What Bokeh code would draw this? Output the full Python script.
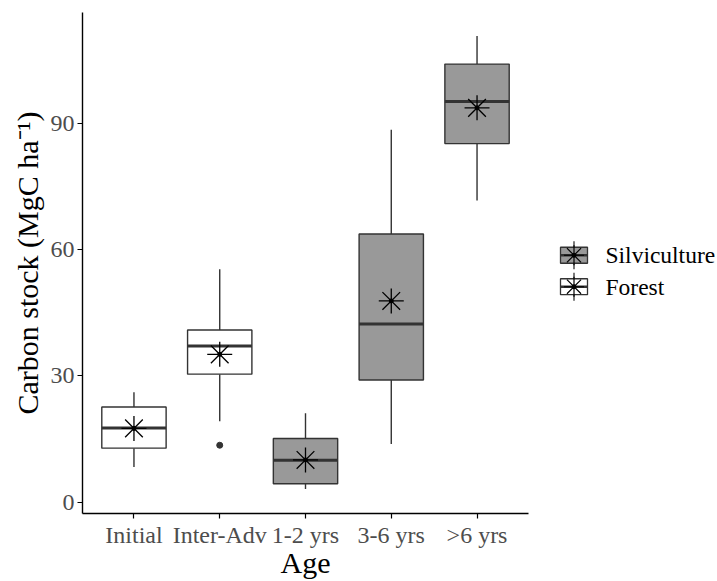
from bokeh.plotting import figure
from bokeh.models import Range1d, FixedTicker, ColumnDataSource
from bokeh.layouts import row
from bokeh.embed import file_html
from bokeh.resources import INLINE
from bokeh.core.properties import value

# ---- data ----
categories = ["Initial", "Inter-Adv", "1-2 yrs", "3-6 yrs", ">6 yrs"]
groups = ["Forest", "Forest", "Silviculture", "Silviculture", "Silviculture"]
lower_whisker = [8.3, 19.2, 3.1, 13.8, 71.7]
q1 = [12.8, 30.4, 4.35, 29.0, 85.2]
median = [17.6, 37.1, 9.9, 42.3, 95.2]
q3 = [22.6, 40.9, 15.1, 63.7, 104.1]
upper_whisker = [26.1, 55.3, 21.1, 88.5, 110.8]
mean = [17.5, 35.1, 10.0, 47.8, 93.7]
outlier_category = ["Inter-Adv"]
outlier_value = [13.5]
y_ticks = [0, 30, 60, 90]
legend_groups = ["Silviculture", "Forest"]
group_fill = {"Silviculture": "#999999", "Forest": "#ffffff"}

FONT = "Liberation Serif"
EDGE = "#333333"
BOX_W = 0.75

pos = [i + 1 for i in range(len(categories))]
fills = [group_fill[g] for g in groups]
src = ColumnDataSource(dict(
    x=pos, lw=lower_whisker, q1=q1, med=median, q3=q3, uw=upper_whisker,
    mean=mean, fill=fills,
    x0=[p_ - BOX_W / 2 for p_ in pos], x1=[p_ + BOX_W / 2 for p_ in pos],
))

p = figure(width=530, height=581, output_backend="svg", toolbar_location=None,
           x_range=Range1d(0.4, len(categories) + 0.6),
           y_range=Range1d(-2.73, 116.36),
           min_border_left=82, min_border_right=2, min_border_top=12, min_border_bottom=60)
p.outline_line_color = None
p.xgrid.visible = False
p.ygrid.visible = False
p.background_fill_color = "white"

# whiskers
p.segment(x0="x", y0="q3", x1="x", y1="uw", source=src, line_color=EDGE, line_width=1.4)
p.segment(x0="x", y0="q1", x1="x", y1="lw", source=src, line_color=EDGE, line_width=1.4)
# boxes
p.vbar(x="x", bottom="q1", top="q3", width=BOX_W, source=src, fill_color="fill",
       line_color=EDGE, line_width=1.4)
# medians
p.segment(x0="x0", y0="med", x1="x1", y1="med", source=src, line_color=EDGE, line_width=3)
# outliers
p.scatter(x=[pos[categories.index(c)] for c in outlier_category], y=outlier_value,
          marker="circle", size=6, fill_color=EDGE, line_color=EDGE)
# means
p.scatter(x="x", y="mean", source=src, marker="asterisk", size=25,
          line_color="black", line_width=1.3)
p.scatter(x="x", y="mean", source=src, marker="circle", size=4,
          fill_color="black", line_color="black")

# axes
for ax in (p.xaxis[0], p.yaxis[0]):
    ax.axis_line_color = "black"
    ax.axis_line_width = 1.4
    ax.major_tick_line_color = "black"
    ax.major_tick_line_width = 1.2
    ax.major_tick_in = 0
    ax.major_tick_out = 5
    ax.minor_tick_line_color = None
    ax.major_label_text_font = FONT
    ax.major_label_text_font_size = "24px"
    ax.major_label_text_color = "#4D4D4D"
    ax.axis_label_text_font = FONT
    ax.axis_label_text_font_size = "30px"
    ax.axis_label_text_font_style = "normal"
    ax.axis_label_text_color = "black"
    ax.major_label_standoff = 3

p.xaxis.axis_label_standoff = -5
p.yaxis.axis_label_standoff = 4
p.xaxis.ticker = FixedTicker(ticks=pos)
p.xaxis.major_label_overrides = {p_: c for p_, c in zip(pos, categories)}
p.xaxis.axis_label = "Age"
p.yaxis.ticker = FixedTicker(ticks=y_ticks)
p.yaxis.axis_label = "Carbon stock (MgC ha\u207b\u00b9)"

# ---- legend panel (its frame is aligned with the main frame by the row) ----
lg = figure(width=187, height=581, output_backend="svg", toolbar_location=None,
            x_axis_type=None, y_axis_type=None,
            x_range=Range1d(530, 717), y_range=Range1d(513.5, 12),
            min_border_left=0, min_border_right=0, min_border_top=12, min_border_bottom=60)
lg.grid.visible = False
lg.outline_line_color = None

key_cx = 573.5
key_cy0 = 255
key_step = 31.5
kw, kh = 27, 16
for i, g in enumerate(legend_groups):
    cy = key_cy0 + i * key_step
    lg.segment(x0=[key_cx], y0=[cy - 14], x1=[key_cx], y1=[cy + 14], line_color=EDGE, line_width=1.3)
    lg.rect(x=[key_cx], y=[cy], width=kw, height=kh, fill_color=group_fill[g],
            line_color=EDGE, line_width=1.3)
    lg.segment(x0=[key_cx - kw / 2], y0=[cy], x1=[key_cx + kw / 2], y1=[cy], line_color=EDGE, line_width=2.5)
    lg.scatter(x=[key_cx], y=[cy], marker="asterisk", size=20, line_color="black", line_width=1.2)
    lg.scatter(x=[key_cx], y=[cy], marker="circle", size=4, fill_color="black", line_color="black")
    lg.text(x=[605], y=[cy], text=[g], text_font=value(FONT), text_font_size="23.5px",
            text_baseline="middle", text_align="left", text_color="black")

layout = row(p, lg)
open("out.html", "w").write(file_html(layout, INLINE))
